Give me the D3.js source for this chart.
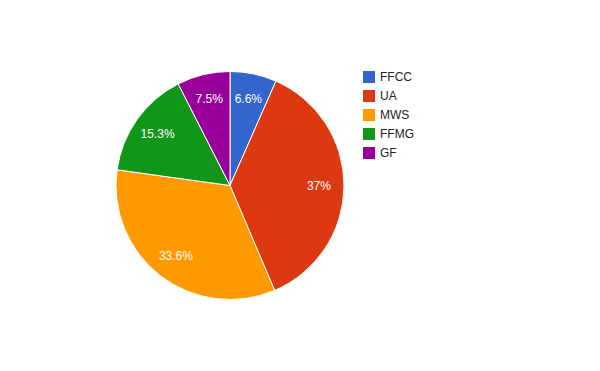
<!DOCTYPE html>
<html>
<head>
<meta charset="utf-8">
<script src="https://cdn.jsdelivr.net/npm/d3@7"></script>
<style>
  body { margin: 0; background: #fff; }
  text { font-family: Arial, "Liberation Sans", sans-serif; font-size: 12px; }
</style>
</head>
<body>
<svg width="600" height="371"></svg>
<script>
// slice data, clockwise from 12 o'clock
var names = ["FFCC", "UA", "MWS", "FFMG", "GF"];
var shares = [6.6, 37, 33.6, 15.3, 7.5];
var colours = ["#3366cc", "#dc3912", "#ff9900", "#109618", "#990099"];

var svg = d3.select("svg"),
    cx = 230, cy = 185.5, radius = 114;

var g = svg.append("g").attr("transform", "translate(" + cx + "," + cy + ")");

var pie = d3.pie().sort(null).value(function(d) { return d; });
var arcs = pie(shares);

var arc = d3.arc().innerRadius(0).outerRadius(radius);
var labelArc = d3.arc().innerRadius(radius * 0.78).outerRadius(radius * 0.78);

g.selectAll("path")
  .data(arcs)
  .enter().append("path")
    .attr("d", arc)
    .attr("fill", function(d, i) { return colours[i]; })
    .attr("stroke", "#fff")
    .attr("stroke-width", 1);

g.selectAll("text")
  .data(arcs)
  .enter().append("text")
    .attr("transform", function(d) { return "translate(" + labelArc.centroid(d) + ")"; })
    .attr("text-anchor", "middle")
    .attr("dy", "0.35em")
    .attr("fill", "#fff")
    .text(function(d) { return d.data + "%"; });

// legend on the right
var legend = svg.append("g").attr("transform", "translate(363,71)");
var item = legend.selectAll("g")
  .data(names)
  .enter().append("g")
    .attr("transform", function(d, i) { return "translate(0," + i * 19 + ")"; });

item.append("rect")
  .attr("width", 12).attr("height", 12)
  .attr("fill", function(d, i) { return colours[i]; });

item.append("text")
  .attr("x", 17).attr("y", 6).attr("dy", "0.35em")
  .attr("fill", "#222")
  .text(function(d) { return d; });
</script>
</body>
</html>
